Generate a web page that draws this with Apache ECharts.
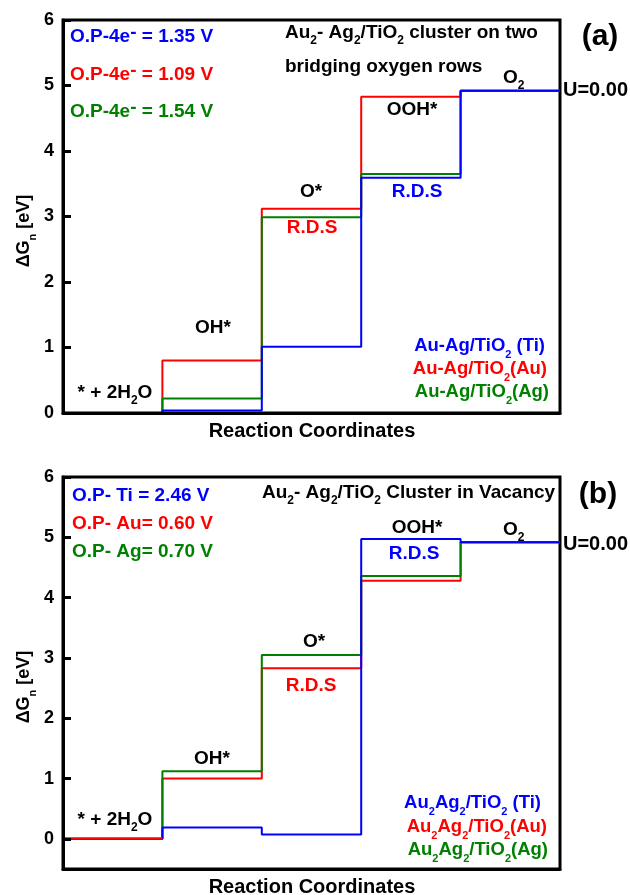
<!DOCTYPE html>
<html>
<head>
<meta charset="utf-8">
<script src="https://cdn.jsdelivr.net/npm/echarts@6/dist/echarts.min.js"></script>
<style>html,body{margin:0;padding:0;background:#fff;}#c{width:630px;height:895px;}</style>
</head>
<body>
<div id="c"></div>
<script>
// Reaction steps (x index 0..4)
var steps = ['* + 2H2O', 'OH*', 'O*', 'OOH*', 'O2'];
// Panel (a): Au2-Ag2/TiO2 cluster on two bridging oxygen rows
var blueA  = [0, 0.04, 1.01, 3.59, 4.92];
var redA   = [0, 0.80, 3.12, 4.83, 4.92];
var greenA = [0, 0.22, 2.99, 3.65, 4.92];
// Panel (b): Au2Ag2/TiO2 cluster in vacancy
var blueB  = [0, 0.19, 0.07, 4.97, 4.92];
var redB   = [0, 1.00, 2.83, 4.28, 4.92];
var greenB = [0, 1.12, 3.05, 4.36, 4.92];
// Tick labels
var yTicksA = [0, 1, 2, 3, 4, 5, 6];
var yTicksB = [0, 1, 2, 3, 4, 5, 6];

var FF = '"Liberation Sans", Arial, Helvetica, sans-serif';
var BLUE = '#0000ff', RED = '#ff0000', GREEN = '#008000';

function stepData(levels) {
  var d = levels.map(function (v, i) { return [i, v]; });
  d.push([levels.length, levels[levels.length - 1]]);
  return d;
}

function richFor(color, size) {
  return {
    b: {fontSize: size, fontWeight: 'bold', fontFamily: FF, fill: color, lineHeight: 28},
    s: {fontSize: Math.round(size * 0.62), fontWeight: 'bold', fontFamily: FF, fill: color, lineHeight: 11, verticalAlign: 'bottom'},
    u: {fontSize: size, fontWeight: 'bold', fontFamily: FF, fill: color, lineHeight: 9, verticalAlign: 'top'}
  };
}

function txt(str, x, y, color, size, align, rot) {
  var el = {
    type: 'text', x: x, y: y, z: 100,
    style: {
      text: str, fill: color, fontSize: size, fontWeight: 'bold', fontFamily: FF,
      align: align || 'left', verticalAlign: 'middle', rich: richFor(color, size)
    }
  };
  if (rot) el.rotation = rot;
  return el;
}

function lineSeries(levels, color, xi, z) {
  return {
    type: 'line', xAxisIndex: xi, yAxisIndex: xi, data: stepData(levels), step: 'end',
    showSymbol: false, symbol: 'none', z: z || 2,
    lineStyle: {color: color, width: 2}, itemStyle: {color: color}, animation: false
  };
}

var axisLabelStyle = {fontSize: 18, fontWeight: 'bold', fontFamily: FF, color: '#000', margin: 9};

var option = {
  animation: false,
  backgroundColor: '#fff',
  grid: [
    {left: 63, top: 20, width: 497, height: 393, show: true, borderColor: '#000', borderWidth: 3, backgroundColor: 'transparent'},
    {left: 63, top: 477, width: 497, height: 392, show: true, borderColor: '#000', borderWidth: 3, backgroundColor: 'transparent'}
  ],
  xAxis: [0, 1].map(function (i) {
    return {
      type: 'value', gridIndex: i, min: 0, max: steps.length, z: 10,
      axisLine: {show: true, onZero: false, lineStyle: {color: '#000', width: 3}},
      axisTick: {show: false}, axisLabel: {show: false}, splitLine: {show: false}
    };
  }),
  yAxis: [
    {
      type: 'value', gridIndex: 0, min: 0, max: 6, interval: 1, z: 10,
      axisLine: {show: true, lineStyle: {color: '#000', width: 3}},
      axisTick: {show: true, inside: true, length: 8, lineStyle: {width: 3, color: '#000'}, customValues: yTicksA},
      axisLabel: Object.assign({customValues: yTicksA}, axisLabelStyle),
      splitLine: {show: false}
    },
    {
      type: 'value', gridIndex: 1, min: -0.5, max: 6, z: 10,
      axisLine: {show: true, lineStyle: {color: '#000', width: 3}},
      axisTick: {show: true, inside: true, length: 8, lineStyle: {width: 3, color: '#000'}, customValues: yTicksB},
      axisLabel: Object.assign({customValues: yTicksB}, axisLabelStyle),
      splitLine: {show: false}
    }
  ],
  series: [
    lineSeries(redA, RED, 0),
    lineSeries(greenA, GREEN, 0),
    lineSeries(blueA, BLUE, 0),
    lineSeries(redB, RED, 1),
    lineSeries(greenB, GREEN, 1),
    lineSeries(blueB, BLUE, 1),
    // first level of red (b) is the visible one in the reference
    lineSeries(redB.slice(0, 1), RED, 1, 3)
  ],
  graphic: [
    // Panel (a)
    txt('{b|O.P-4e}{u|-}{b| = 1.35 V}', 70, 37, BLUE, 19),
    txt('{b|O.P-4e}{u|-}{b| = 1.09 V}', 70, 75, RED, 19),
    txt('{b|O.P-4e}{u|-}{b| = 1.54 V}', 70, 112, GREEN, 19),
    txt('{b|Au}{s|2}{b|- Ag}{s|2}{b|/TiO}{s|2}{b| cluster on two}', 285, 33, '#000', 19),
    txt('{b|bridging oxygen rows}', 285, 67, '#000', 19),
    txt('{b|O}{s|2}', 503, 78, '#000', 19),
    txt('{b|OOH*}', 412, 110, '#000', 19, 'center'),
    txt('{b|R.D.S}', 417, 192, BLUE, 19, 'center'),
    txt('{b|O*}', 300, 192, '#000', 19),
    txt('{b|R.D.S}', 312, 228, RED, 19, 'center'),
    txt('{b|OH*}', 213, 328, '#000', 19, 'center'),
    txt('{b|* + 2H}{s|2}{b|O}', 115, 393, '#000', 19, 'center'),
    txt('{b|Au-Ag/TiO}{s|2}{b| (Ti)}', 545, 346, BLUE, 18.5, 'right'),
    txt('{b|Au-Ag/TiO}{s|2}{b|(Au)}', 547, 369, RED, 18.5, 'right'),
    txt('{b|Au-Ag/TiO}{s|2}{b|(Ag)}', 549, 392, GREEN, 18.5, 'right'),
    txt('{b|(a)}', 600, 37, '#000', 30, 'center'),
    txt('{b|U=0.00}', 563, 90, '#000', 20),
    txt('{b|Reaction Coordinates}', 312, 431, '#000', 20, 'center'),
    txt('{b|ΔG}{s|n}{b| [eV]}', 24, 231, '#000', 18, 'center', Math.PI / 2),
    // Panel (b)
    txt('{b|O.P- Ti = 2.46 V}', 72, 496, BLUE, 19),
    txt('{b|O.P- Au= 0.60 V}', 72, 524, RED, 19),
    txt('{b|O.P- Ag= 0.70 V}', 72, 552, GREEN, 19),
    txt('{b|Au}{s|2}{b|- Ag}{s|2}{b|/TiO}{s|2}{b| Cluster in Vacancy}', 262, 493, '#000', 19),
    txt('{b|OOH*}', 417, 528, '#000', 19, 'center'),
    txt('{b|O}{s|2}', 503, 530, '#000', 19),
    txt('{b|R.D.S}', 414, 554, BLUE, 19, 'center'),
    txt('{b|O*}', 303, 642, '#000', 19),
    txt('{b|R.D.S}', 311, 686, RED, 19, 'center'),
    txt('{b|OH*}', 212, 759, '#000', 19, 'center'),
    txt('{b|* + 2H}{s|2}{b|O}', 115, 820, '#000', 19, 'center'),
    txt('{b|Au}{s|2}{b|Ag}{s|2}{b|/TiO}{s|2}{b| (Ti)}', 541, 803, BLUE, 18.5, 'right'),
    txt('{b|Au}{s|2}{b|Ag}{s|2}{b|/TiO}{s|2}{b|(Au)}', 547, 827, RED, 18.5, 'right'),
    txt('{b|Au}{s|2}{b|Ag}{s|2}{b|/TiO}{s|2}{b|(Ag)}', 548, 850, GREEN, 18.5, 'right'),
    txt('{b|(b)}', 598, 495, '#000', 30, 'center'),
    txt('{b|U=0.00}', 563, 544, '#000', 20),
    txt('{b|Reaction Coordinates}', 312, 887, '#000', 20, 'center'),
    txt('{b|ΔG}{s|n}{b| [eV]}', 24, 687, '#000', 18, 'center', Math.PI / 2)
  ]
};

var chart = echarts.init(document.getElementById('c'), null, {renderer: 'canvas'});
chart.setOption(option);
</script>
</body>
</html>
